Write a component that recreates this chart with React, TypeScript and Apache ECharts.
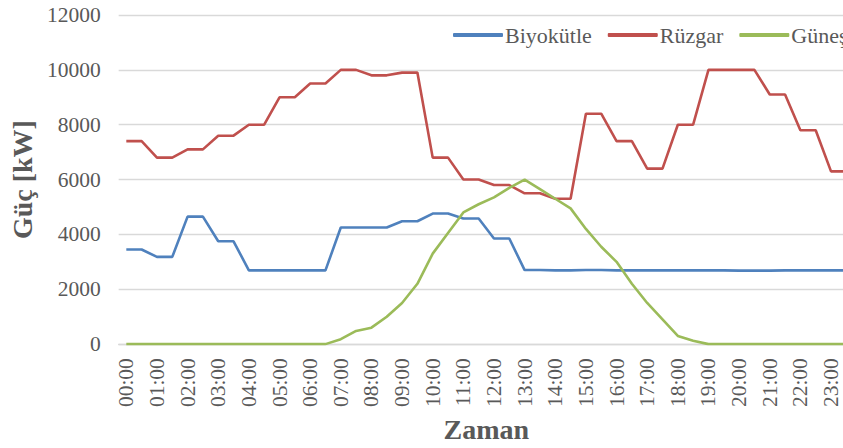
import React, { useEffect, useRef } from "react";
import * as echarts from "echarts";

const categories = [
  "00:00","00:30","01:00","01:30","02:00","02:30","03:00","03:30",
  "04:00","04:30","05:00","05:30","06:00","06:30","07:00","07:30",
  "08:00","08:30","09:00","09:30","10:00","10:30","11:00","11:30",
  "12:00","12:30","13:00","13:30","14:00","14:30","15:00","15:30",
  "16:00","16:30","17:00","17:30","18:00","18:30","19:00","19:30",
  "20:00","20:30","21:00","21:30","22:00","22:30","23:00","23:30",
];

const biyokutle = [
  3450, 3450, 3180, 3180, 4650, 4650, 3750, 3750,
  2690, 2690, 2690, 2690, 2690, 2690, 4250, 4250,
  4250, 4250, 4480, 4480, 4760, 4760, 4580, 4580,
  3850, 3850, 2700, 2700, 2690, 2690, 2700, 2700,
  2690, 2690, 2690, 2690, 2690, 2690, 2690, 2690,
  2680, 2680, 2680, 2690, 2690, 2690, 2690, 2690,
];

const ruzgar = [
  7400, 7400, 6800, 6800, 7100, 7100, 7600, 7600,
  8000, 8000, 9000, 9000, 9500, 9500, 10000, 10000,
  9800, 9800, 9900, 9900, 6800, 6800, 6000, 6000,
  5800, 5800, 5500, 5500, 5300, 5300, 8400, 8400,
  7400, 7400, 6400, 6400, 8000, 8000, 10000, 10000,
  10000, 10000, 9100, 9100, 7800, 7800, 6300, 6300,
];

const gunes = [
  0, 0, 0, 0, 0, 0, 0, 0,
  0, 0, 0, 0, 0, 0, 180, 480,
  600, 1000, 1500, 2200, 3300, 4050, 4800, 5100,
  5350, 5700, 6000, 5650, 5300, 4950, 4200, 3550,
  3000, 2200, 1500, 900, 300, 120, 0, 0,
  0, 0, 0, 0, 0, 0, 0, 0,
];

const seriesNames = ["Biyokütle", "Rüzgar", "Güneş"];
const seriesColors = ["#4F81BD", "#C0504D", "#9BBB59"];
const yTicks = { min: 0, max: 12000, interval: 2000 };

const FONT = "'Liberation Serif', 'Times New Roman', serif";

export default function App() {
  const ref = useRef<HTMLDivElement>(null);
  useEffect(() => {
    if (!ref.current) return;
    const chart = echarts.init(ref.current, undefined, { renderer: "svg" });
    const dataSets = [biyokutle, ruzgar, gunes];
    chart.setOption({
      animation: false,
      textStyle: { fontFamily: FONT },
      grid: { left: 115, top: 15, bottom: 100, right: 16, containLabel: false },
      legend: {
        left: 448,
        top: 19,
        icon: "roundRect",
        itemWidth: 50,
        itemHeight: 4,
        itemGap: 16,
        textStyle: { fontFamily: FONT, fontSize: 22, color: "#595959", padding: [0, 0, 0, -3] },
        data: seriesNames,
      },
      xAxis: {
        type: "category",
        data: categories,
        boundaryGap: true,
        name: "Zaman",
        nameLocation: "middle",
        nameGap: 70,
        nameTextStyle: { fontFamily: FONT, fontSize: 28, fontWeight: "bold", color: "#595959" },
        axisLine: { lineStyle: { color: "#D9D9D9", width: 1.3 } },
        axisTick: { show: false },
        axisLabel: {
          interval: 1,
          rotate: 90,
          margin: 14,
          fontFamily: FONT,
          fontSize: 21.5,
          color: "#595959",
        },
      },
      yAxis: {
        type: "value",
        min: yTicks.min,
        max: yTicks.max,
        interval: yTicks.interval,
        name: "Güç [kW]",
        nameLocation: "middle",
        nameGap: 76,
        nameRotate: 90,
        nameTextStyle: { fontFamily: FONT, fontSize: 28, fontWeight: "bold", color: "#595959" },
        axisLine: { show: false },
        axisTick: { show: false },
        splitLine: { lineStyle: { color: "#D9D9D9", width: 1.3 } },
        axisLabel: {
          margin: 18,
          fontFamily: FONT,
          fontSize: 21.5,
          color: "#595959",
          formatter: (v: number) => String(v),
        },
      },
      series: seriesNames.map((name, i) => ({
        name,
        type: "line",
        data: dataSets[i],
        symbol: "none",
        lineStyle: { color: seriesColors[i], width: 2.6 },
        itemStyle: { color: seriesColors[i] },
      })),
    });
    return () => chart.dispose();
  }, []);
  return (
    <div
      ref={ref}
      style={{ position: "fixed", left: 0, top: 0, width: 870, height: 448, background: "#fff" }}
    />
  );
}
